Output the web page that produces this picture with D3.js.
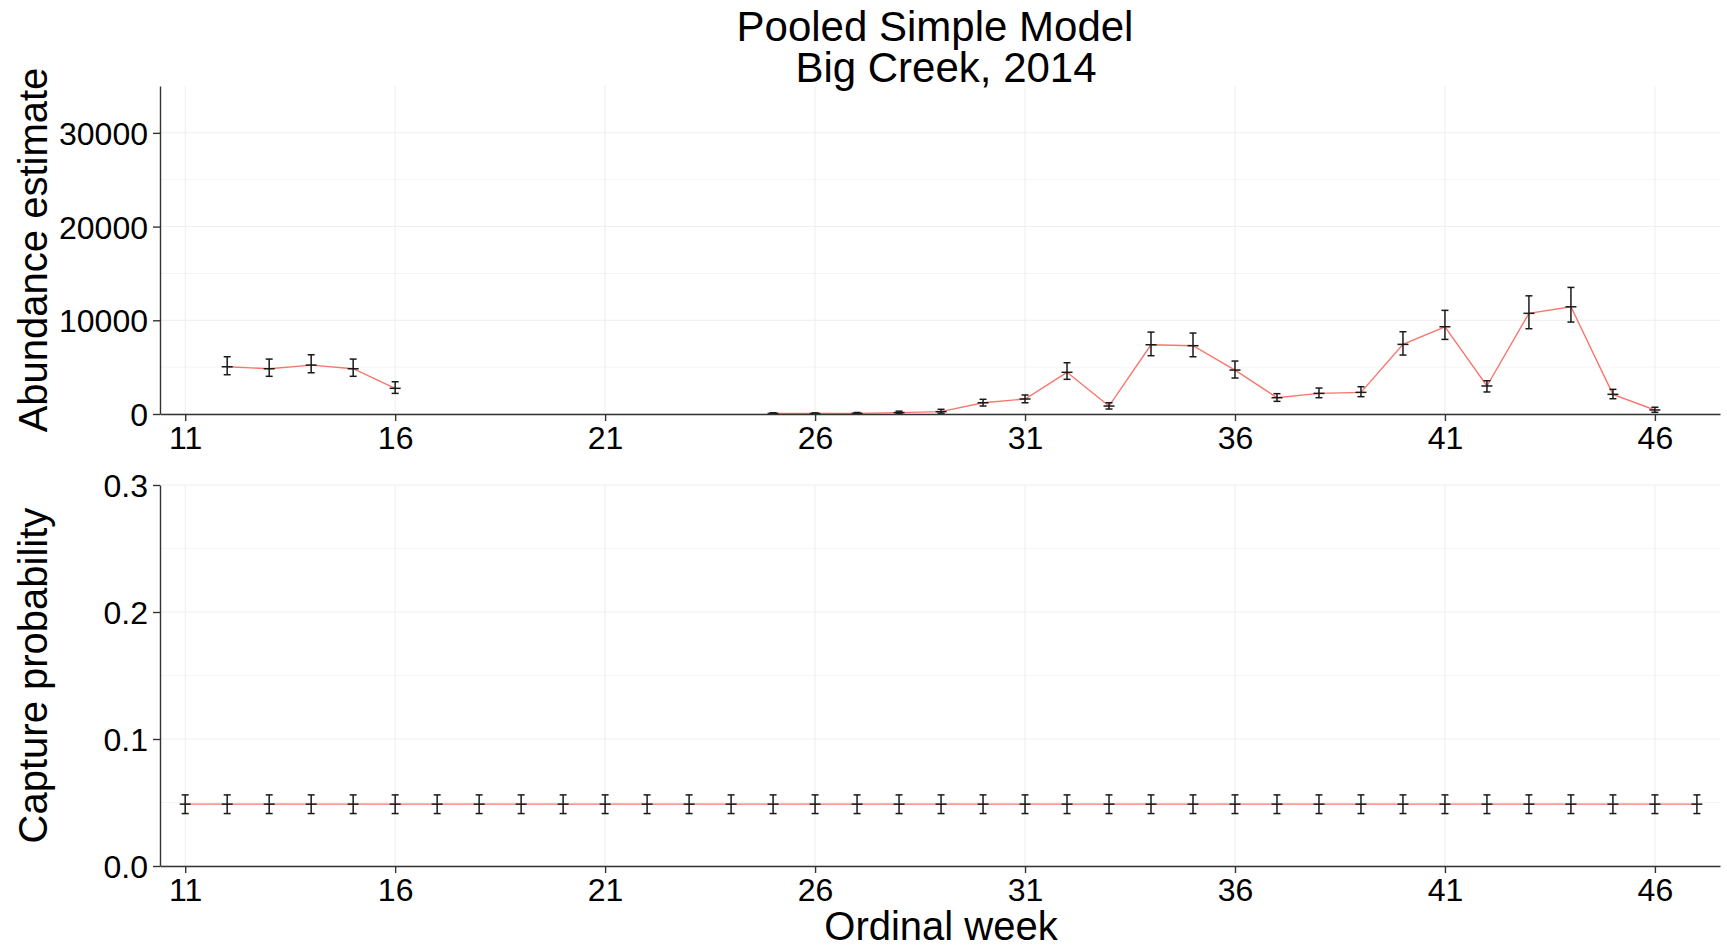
<!DOCTYPE html>
<html>
<head>
<meta charset="utf-8">
<script src="https://cdn.jsdelivr.net/npm/d3@7"></script>
<style>
  body { margin: 0; background: #fff; }
  text { font-family: "Liberation Sans", Arial, sans-serif; fill: #000; }
</style>
</head>
<body>
<div id="chart"></div>
<script>
// abundance estimates by ordinal week (null = no estimate)
var abWeeks = [12, 13, 14, 15, 16, 17, 18, 19, 20, 21, 22, 23, 24, 25, 26, 27, 28, 29, 30,
  31, 32, 33, 34, 35, 36, 37, 38, 39, 40, 41, 42, 43, 44, 45, 46];
var abEst = [5040, 4830, 5220, 4830, 2740, null, null, null, null, null, null, null, null,
  60, 50, 70, 150, 250, 1200, 1600, 4450, 850, 7390, 7290, 4690, 1740, 2200, 2310,
  7430, 9310, 2990, 10740, 11440, 2100, 430];
var abLo = [4190, 4020, 4400, 4020, 2200, null, null, null, null, null, null, null, null,
  15, 10, 20, 50, 90, 850, 1200, 3700, 530, 6220, 6110, 3840, 1350, 1740, 1850,
  6290, 7960, 2350, 9100, 9810, 1630, 180];
var abHi = [6110, 5860, 6320, 5860, 3440, null, null, null, null, null, null, null, null,
  130, 120, 160, 300, 500, 1570, 2030, 5470, 1200, 8740, 8640, 5650, 2170, 2770, 2910,
  8780, 11060, 3550, 12610, 13510, 2630, 720];

// capture probability by ordinal week
var cpWeeks = [11, 12, 13, 14, 15, 16, 17, 18, 19, 20, 21, 22, 23, 24, 25, 26, 27, 28, 29,
  30, 31, 32, 33, 34, 35, 36, 37, 38, 39, 40, 41, 42, 43, 44, 45, 46, 47];
var cpEst = [0.0487, 0.0487, 0.0487, 0.0487, 0.0487, 0.0487, 0.0487, 0.0487, 0.0487, 0.0487,
  0.0487, 0.0487, 0.0487, 0.0487, 0.0487, 0.0487, 0.0487, 0.0487, 0.0487, 0.0487,
  0.0487, 0.0487, 0.0487, 0.0487, 0.0487, 0.0487, 0.0487, 0.0487, 0.0487, 0.0487,
  0.0487, 0.0487, 0.0487, 0.0487, 0.0487, 0.0487, 0.0487];
var cpLo = [0.0413, 0.0413, 0.0413, 0.0413, 0.0413, 0.0413, 0.0413, 0.0413, 0.0413, 0.0413,
  0.0413, 0.0413, 0.0413, 0.0413, 0.0413, 0.0413, 0.0413, 0.0413, 0.0413, 0.0413,
  0.0413, 0.0413, 0.0413, 0.0413, 0.0413, 0.0413, 0.0413, 0.0413, 0.0413, 0.0413,
  0.0413, 0.0413, 0.0413, 0.0413, 0.0413, 0.0413, 0.0413];
var cpHi = [0.056, 0.056, 0.056, 0.056, 0.056, 0.056, 0.056, 0.056, 0.056, 0.056,
  0.056, 0.056, 0.056, 0.056, 0.056, 0.056, 0.056, 0.056, 0.056, 0.056,
  0.056, 0.056, 0.056, 0.056, 0.056, 0.056, 0.056, 0.056, 0.056, 0.056,
  0.056, 0.056, 0.056, 0.056, 0.056, 0.056, 0.056];

var xTicks = [11, 16, 21, 26, 31, 36, 41, 46];
var abTicks = [0, 10000, 20000, 30000];
var abMinor = [5000, 15000, 25000];
var cpTicks = [0, 0.1, 0.2, 0.3];
var cpMinor = [0.05, 0.15, 0.25];

var width = 1727;
var height = 947;
var left = 160, right = 1720;

var svg = d3.select('#chart')
  .append("svg")
  .attr("width", width)
  .attr("height", height);

var x = d3.scaleLinear().domain([10.4, 47.55]).range([left, right]);

svg.append("text")
  .attr("x", 935).attr("y", 41)
  .attr("text-anchor", "middle")
  .style("font-size", "42px")
  .text("Pooled Simple Model");
svg.append("text")
  .attr("x", 946).attr("y", 82)
  .attr("text-anchor", "middle")
  .style("font-size", "42px")
  .text("Big Creek, 2014");

function panel(top, bottom, yDomain, ticks, minor, fmt, title, weeks, est, lo, hi) {
  var y = d3.scaleLinear().domain(yDomain).range([bottom, top]);
  var g = svg.append("g");

  // grid
  g.selectAll(".minor").data(minor).enter().append("line")
    .attr("x1", left).attr("x2", right)
    .attr("y1", function (d) { return y(d); })
    .attr("y2", function (d) { return y(d); })
    .attr("stroke", "#f4f4f4").attr("stroke-width", 1);
  g.selectAll(".major").data(ticks).enter().append("line")
    .attr("x1", left).attr("x2", right)
    .attr("y1", function (d) { return y(d); })
    .attr("y2", function (d) { return y(d); })
    .attr("stroke", "#eeeeee").attr("stroke-width", 1);
  g.selectAll(".vgrid").data(xTicks).enter().append("line")
    .attr("x1", function (d) { return x(d); })
    .attr("x2", function (d) { return x(d); })
    .attr("y1", top).attr("y2", bottom)
    .attr("stroke", "#eeeeee").attr("stroke-width", 1);

  var rows = weeks.map(function (w, i) {
    return { w: w, v: est[i], lo: lo[i], hi: hi[i] };
  });

  var line = d3.line()
    .defined(function (d) { return d.v !== null; })
    .x(function (d) { return x(d.w); })
    .y(function (d) { return y(d.v); });

  g.append("path")
    .datum(rows)
    .attr("d", line)
    .attr("fill", "none")
    .attr("stroke", "#F8766D")
    .attr("stroke-width", 1.4);

  var pts = rows.filter(function (d) { return d.v !== null; });
  var eb = g.selectAll(".eb").data(pts).enter().append("g")
    .attr("stroke", "#1a1a1a").attr("stroke-width", 1.5);
  eb.append("line")
    .attr("x1", function (d) { return x(d.w); })
    .attr("x2", function (d) { return x(d.w); })
    .attr("y1", function (d) { return y(d.lo); })
    .attr("y2", function (d) { return y(d.hi); });
  eb.append("line")
    .attr("x1", function (d) { return x(d.w) - 3.5; })
    .attr("x2", function (d) { return x(d.w) + 3.5; })
    .attr("y1", function (d) { return y(d.lo); })
    .attr("y2", function (d) { return y(d.lo); });
  eb.append("line")
    .attr("x1", function (d) { return x(d.w) - 3.5; })
    .attr("x2", function (d) { return x(d.w) + 3.5; })
    .attr("y1", function (d) { return y(d.hi); })
    .attr("y2", function (d) { return y(d.hi); });
  eb.append("line")
    .attr("x1", function (d) { return x(d.w) - 5.5; })
    .attr("x2", function (d) { return x(d.w) + 5.5; })
    .attr("y1", function (d) { return y(d.v); })
    .attr("y2", function (d) { return y(d.v); });

  // axes
  var xAxis = g.append("g")
    .attr("transform", "translate(0," + bottom + ")")
    .call(d3.axisBottom(x).tickValues(xTicks).tickSize(7).tickPadding(5).tickSizeOuter(0));
  var yAxis = g.append("g")
    .attr("transform", "translate(" + left + ",0)")
    .call(d3.axisLeft(y).tickValues(ticks).tickFormat(fmt).tickSize(7).tickPadding(5).tickSizeOuter(0));
  [xAxis, yAxis].forEach(function (a) {
    a.select(".domain").attr("stroke", "#333").attr("stroke-width", 1.4);
    a.selectAll(".tick line").attr("stroke", "#333").attr("stroke-width", 1.4);
    a.selectAll("text").style("font-size", "32px").attr("fill", "#000")
      .style("font-family", '"Liberation Sans", Arial, sans-serif');
  });
  xAxis.selectAll("text").attr("dy", "0.72em");
  yAxis.selectAll("text").attr("dy", "0.36em");

  svg.append("text")
    .attr("transform", "translate(47," + ((top + bottom) / 2) + ") rotate(-90)")
    .attr("text-anchor", "middle")
    .style("font-size", "40px")
    .text(title);
}

panel(86, 414, [0, 35000], abTicks, abMinor, d3.format("d"), "Abundance estimate",
  abWeeks, abEst, abLo, abHi);
panel(485, 866, [0, 0.3], cpTicks, cpMinor, d3.format(".1f"), "Capture probability",
  cpWeeks, cpEst, cpLo, cpHi);

svg.append("text")
  .attr("x", 941).attr("y", 940)
  .attr("text-anchor", "middle")
  .style("font-size", "40px")
  .text("Ordinal week");
</script>
</body>
</html>
